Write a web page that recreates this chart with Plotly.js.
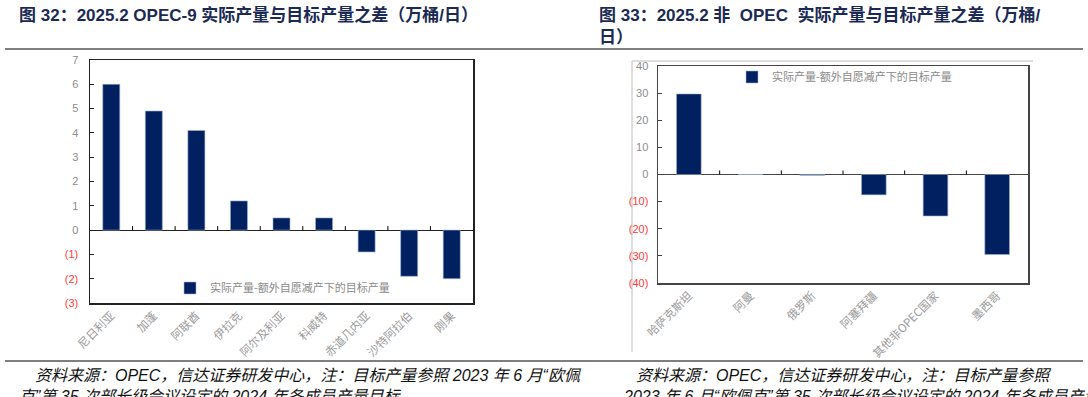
<!DOCTYPE html>
<html>
<head>
<meta charset="utf-8">
<script src="https://cdn.plot.ly/plotly-3.0.1.min.js"></script>
<style>
html,body{margin:0;padding:0;background:#fff;}
#chart{width:1088px;height:397px;}
</style>
</head>
<body>
<div id="chart"></div>
<script>
// ---- data ----
const opecCategories = ["尼日利亚","加蓬","阿联酋","伊拉克","阿尔及利亚","科威特","赤道几内亚","沙特阿拉伯","刚果"];
const opecValues = [6.0, 4.9, 4.1, 1.2, 0.5, 0.5, -0.9, -1.9, -2.0];
const nonOpecCategories = ["哈萨克斯坦","阿曼","俄罗斯","阿塞拜疆","其他非OPEC国家","墨西哥"];
const nonOpecValues = [29.7, 0, -0.3, -7.5, -15.3, -29.5];
const seriesName = "实际产量-额外自愿减产下的目标产量";
const leftTickVals = [7,6,5,4,3,2,1,0,-1,-2,-3];
const rightTickVals = [40,30,20,10,0,-10,-20,-30,-40];
const leftTitle = "图 32：2025.2 OPEC-9 实际产量与目标产量之差（万桶/日）";
const rightTitle1 = "图 33：2025.2 非  OPEC  实际产量与目标产量之差（万桶/";
const rightTitle2 = "日）";
const leftNote1 = "资料来源：OPEC，信达证券研发中心，注：目标产量参照 2023 年 6 月“欧佩";
const leftNote2 = "克”第 35 次部长级会议设定的 2024 年各成员产量目标";
const rightNote1 = "资料来源：OPEC，信达证券研发中心，注：目标产量参照";
const rightNote2 = "2023 年 6 月“欧佩克”第 35 次部长级会议设定的 2024 年各成员产量目标";

// ---- helpers ----
const W = 1088, H = 397;
const px = x => x / W;
const py = y => 1 - y / H;
const NAVY = "#002060";
const GRAY = "#8c8c8c";
const RED = "#ff3b3b";
function tickText(v){
  return v < 0 ? '<span style="color:' + RED + '">(' + Math.abs(v) + ')</span>' : String(v);
}

const traces = [
  {type:"bar", x:opecCategories, y:opecValues, name:seriesName, xaxis:"x", yaxis:"y",
   marker:{color:NAVY, line:{color:"#9fb0cc", width:0.6}}, legend:"legend", hoverinfo:"x+y"},
  {type:"bar", x:nonOpecCategories, y:nonOpecValues, name:seriesName, xaxis:"x2", yaxis:"y2",
   marker:{color:NAVY, line:{color:"#9fb0cc", width:0.6}}, legend:"legend2", hoverinfo:"x+y"}
];

const shapes = [];
// category boundary ticks on zero line
for (let i = 0; i < opecCategories.length - 1; i++) {
  shapes.push({type:"line", xref:"x", yref:"y", x0:i+0.5, x1:i+0.5, ysizemode:"pixel", yanchor:0, y0:0, y1:4,
    line:{color:"#000", width:1}});
}
for (let i = 0; i < nonOpecCategories.length - 1; i++) {
  shapes.push({type:"line", xref:"x2", yref:"y2", x0:i+0.5, x1:i+0.5, ysizemode:"pixel", yanchor:0, y0:0, y1:4,
    line:{color:"#000", width:1}});
}
// header/footer rules
shapes.push({type:"line", xref:"paper", yref:"paper", x0:px(5), x1:px(1083), y0:py(49), y1:py(49), line:{color:"#000", width:1.2}});
shapes.push({type:"line", xref:"paper", yref:"paper", x0:px(5), x1:px(1083), y0:py(361), y1:py(361), line:{color:"#000", width:1.2}});
// right chart outer light border
shapes.push({type:"line", xref:"paper", yref:"paper", x0:px(632), x1:px(1033), y0:py(61), y1:py(61), line:{color:"#bdbdbd", width:1}});
shapes.push({type:"line", xref:"paper", yref:"paper", x0:px(632), x1:px(632), y0:py(61), y1:py(352), line:{color:"#bdbdbd", width:1}});

const titleFont = {family:"Liberation Sans, Noto Sans CJK SC, sans-serif", size:17, color:"#1b2a55", weight:"bold"};
const noteFont = {family:"Liberation Sans, Noto Sans CJK SC, sans-serif", size:16, color:"#111", style:"italic"};
const annotations = [
  {text:"<b>"+leftTitle+"</b>", xref:"paper", yref:"paper", x:px(17), y:py(15), xanchor:"left", yanchor:"middle", showarrow:false, font:titleFont},
  {text:"<b>"+rightTitle1+"</b>", xref:"paper", yref:"paper", x:px(597), y:py(15), xanchor:"left", yanchor:"middle", showarrow:false, font:titleFont},
  {text:"<b>"+rightTitle2+"</b>", xref:"paper", yref:"paper", x:px(597), y:py(37), xanchor:"left", yanchor:"middle", showarrow:false, font:titleFont},
  {text:"<i>"+leftNote1+"</i>", xref:"paper", yref:"paper", x:px(33), y:py(375), xanchor:"left", yanchor:"middle", showarrow:false, font:noteFont},
  {text:"<i>"+leftNote2+"</i>", xref:"paper", yref:"paper", x:px(17), y:py(396), xanchor:"left", yanchor:"middle", showarrow:false, font:noteFont},
  {text:"<i>"+rightNote1+"</i>", xref:"paper", yref:"paper", x:px(634), y:py(375), xanchor:"left", yanchor:"middle", showarrow:false, font:noteFont},
  {text:"<i>"+rightNote2+"</i>", xref:"paper", yref:"paper", x:px(621), y:py(396), xanchor:"left", yanchor:"middle", showarrow:false, font:noteFont}
];

const catFont = {family:"Noto Sans CJK SC, sans-serif", size:11.5, color:"#9a9a9a"};
const numFont = {family:"Liberation Sans, Arial, sans-serif", size:11, color:GRAY};
const legendFont = {family:"Noto Sans CJK SC, sans-serif", size:11, color:"#8a8a8a"};

const layout = {
  width: W, height: H,
  margin:{l:0, r:0, t:0, b:0, pad:0},
  paper_bgcolor:"#fff", plot_bgcolor:"#fff",
  bargap:0.6,
  showlegend:true,
  xaxis:{domain:[px(90), px(473)], anchor:"y", type:"category", showline:true, mirror:true, linecolor:"#222", linewidth:1.5,
    ticks:"", tickangle:-45, tickfont:catFont, showgrid:false, zeroline:false, fixedrange:true},
  yaxis:{domain:[py(303), py(60)], anchor:"x", range:[-3,7], showline:true, mirror:true, linecolor:"#222", linewidth:1.5,
    ticks:"inside", ticklen:4, tickcolor:"#222", tickvals:leftTickVals, ticktext:leftTickVals.map(tickText),
    tickfont:numFont, ticklabelstandoff:8, showgrid:false, zeroline:true, zerolinecolor:"#222", zerolinewidth:1.2, fixedrange:true},
  xaxis2:{domain:[px(658), px(1028)], anchor:"y2", type:"category", showline:true, mirror:true, linecolor:"#444", linewidth:1.5,
    ticks:"", tickangle:-45, tickfont:catFont, showgrid:false, zeroline:false, fixedrange:true},
  yaxis2:{domain:[py(283), py(66)], anchor:"x2", range:[-40,40], showline:true, mirror:true, linecolor:"#444", linewidth:1.5,
    ticks:"inside", ticklen:4, tickcolor:"#444", tickvals:rightTickVals, ticktext:rightTickVals.map(tickText),
    tickfont:numFont, ticklabelstandoff:6, showgrid:false, zeroline:true, zerolinecolor:"#444", zerolinewidth:1.2, fixedrange:true},
  legend:{x:px(170), y:py(288), xanchor:"left", yanchor:"middle", orientation:"h", font:legendFont, bgcolor:"rgba(0,0,0,0)", itemwidth:30},
  legend2:{x:px(732), y:py(77), xanchor:"left", yanchor:"middle", orientation:"h", font:legendFont, bgcolor:"rgba(0,0,0,0)", itemwidth:30},
  shapes: shapes,
  annotations: annotations
};

Plotly.newPlot("chart", traces, layout, {displayModeBar:false, staticPlot:true});
</script>
</body>
</html>
